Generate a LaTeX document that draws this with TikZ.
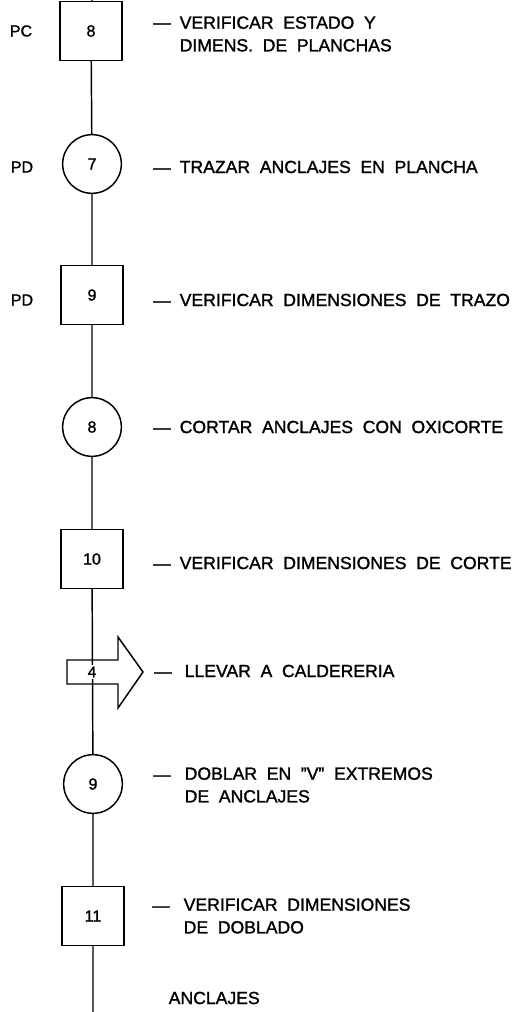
\documentclass[tikz,border=0pt]{standalone}
\usepackage{fontspec}
\setmainfont{Liberation Sans}[BoldFont={Liberation Sans}, BoldFeatures={FakeBold=1.4}]
\usetikzlibrary{calc}

\newcommand\descfont{\fontsize{13.2}{17}\selectfont\bfseries\spaceskip 0.55em plus 0.1em\relax}

\tikzset{
  opbox/.style={draw, rectangle, minimum width=46.5pt, minimum height=44pt, inner sep=0pt,
    font=\fontsize{12}{14}\selectfont\bfseries},
  opcirc/.style={draw, circle, minimum size=44pt, inner sep=0pt,
    font=\fontsize{12}{14}\selectfont\bfseries},
  side/.style={inner sep=0pt, font=\fontsize{12}{14}\selectfont\bfseries},
  lead/.style={inner sep=0pt, text height=9.5pt, text depth=0pt, font=\fontsize{13}{17}\selectfont\bfseries},
  desc/.style={anchor=west, align=left, inner sep=0pt, font=\descfont},
}

\begin{document}
\begin{tikzpicture}[x=0.75pt, y=-0.75pt, line width=1.1pt]
    \useasboundingbox (0,0) rectangle (518,1012);

    % Ends of the line
    \coordinate (top) at (92,0);
    \coordinate (bot) at (93,1012);

    % Operations and inspections
    \node[opbox] (b8) at (91,31) {8};
    \node[opcirc] (c7) at (92,164) {7};
    \node[opbox] (b9) at (92,295) {9};
    \node[opcirc] (c8) at (92,427) {8};
    \node[opbox] (b10) at (92,559) {10};
    \node[opcirc] (c9) at (93,784) {9};
    \node[opbox] (b11) at (93,916) {11};

    % Line
    \draw (top) -- (b8) -- (c7) -- (b9) -- (c8) -- (b10);
    \draw (b10) -- (c9) -- (b11) -- (bot);

    % Transport
    \node[inner sep=1.5pt, fill=white, font=\fontsize{11.5}{13}\selectfont\bfseries] (t4) at (92,672) {4};
    \draw (t4) ++(-25,-12) -- ++(51,0) -- ++(0,-23) -- ++(25,35) -- ++(-25,36)
        -- ++(0,-24) -- ++(-51,0) -- cycle;

    % Left marks
    \node[side] (pc8) at (21,31) {PC};
    \node[side] (pd7) at (22,167) {PD};
    \node[side] (pd9) at (22,300) {PD};

    % Descriptions
    \node[lead] (l8) at (162,22) {---};
    \node[desc] (x8) at (179,34) {VERIFICAR ESTADO Y\\DIMENS. DE PLANCHAS};
    \node[lead] (l7) at (162,167) {---};
    \node[desc] (x7) at (179,167) {TRAZAR ANCLAJES EN PLANCHA};
    \node[lead] (l9) at (162,300) {---};
    \node[desc] (x9) at (179,300) {VERIFICAR DIMENSIONES DE TRAZO};
    \node[lead] (l8b) at (162,427) {---};
    \node[desc] (x8b) at (179,427) {CORTAR ANCLAJES CON OXICORTE};
    \node[lead] (l10) at (162,563) {---};
    \node[desc] (x10) at (179,563) {VERIFICAR DIMENSIONES DE CORTE};
    \node[lead] (l4) at (163,671) {---};
    \node[desc] (x4) at (184,671) {LLEVAR A CALDERERIA};
    \node[lead] (l9b) at (162,774) {---};
    \node[desc] (x9b) at (184,785) {DOBLAR EN \symbol{34}V\symbol{34} EXTREMOS\\DE ANCLAJES};
    \node[lead] (l11) at (161,905) {---};
    \node[desc] (x11) at (183,916) {VERIFICAR DIMENSIONES\\DE DOBLADO};

    % Product
    \node[desc] (prod) at (168,998) {ANCLAJES};
\end{tikzpicture}
\end{document}
